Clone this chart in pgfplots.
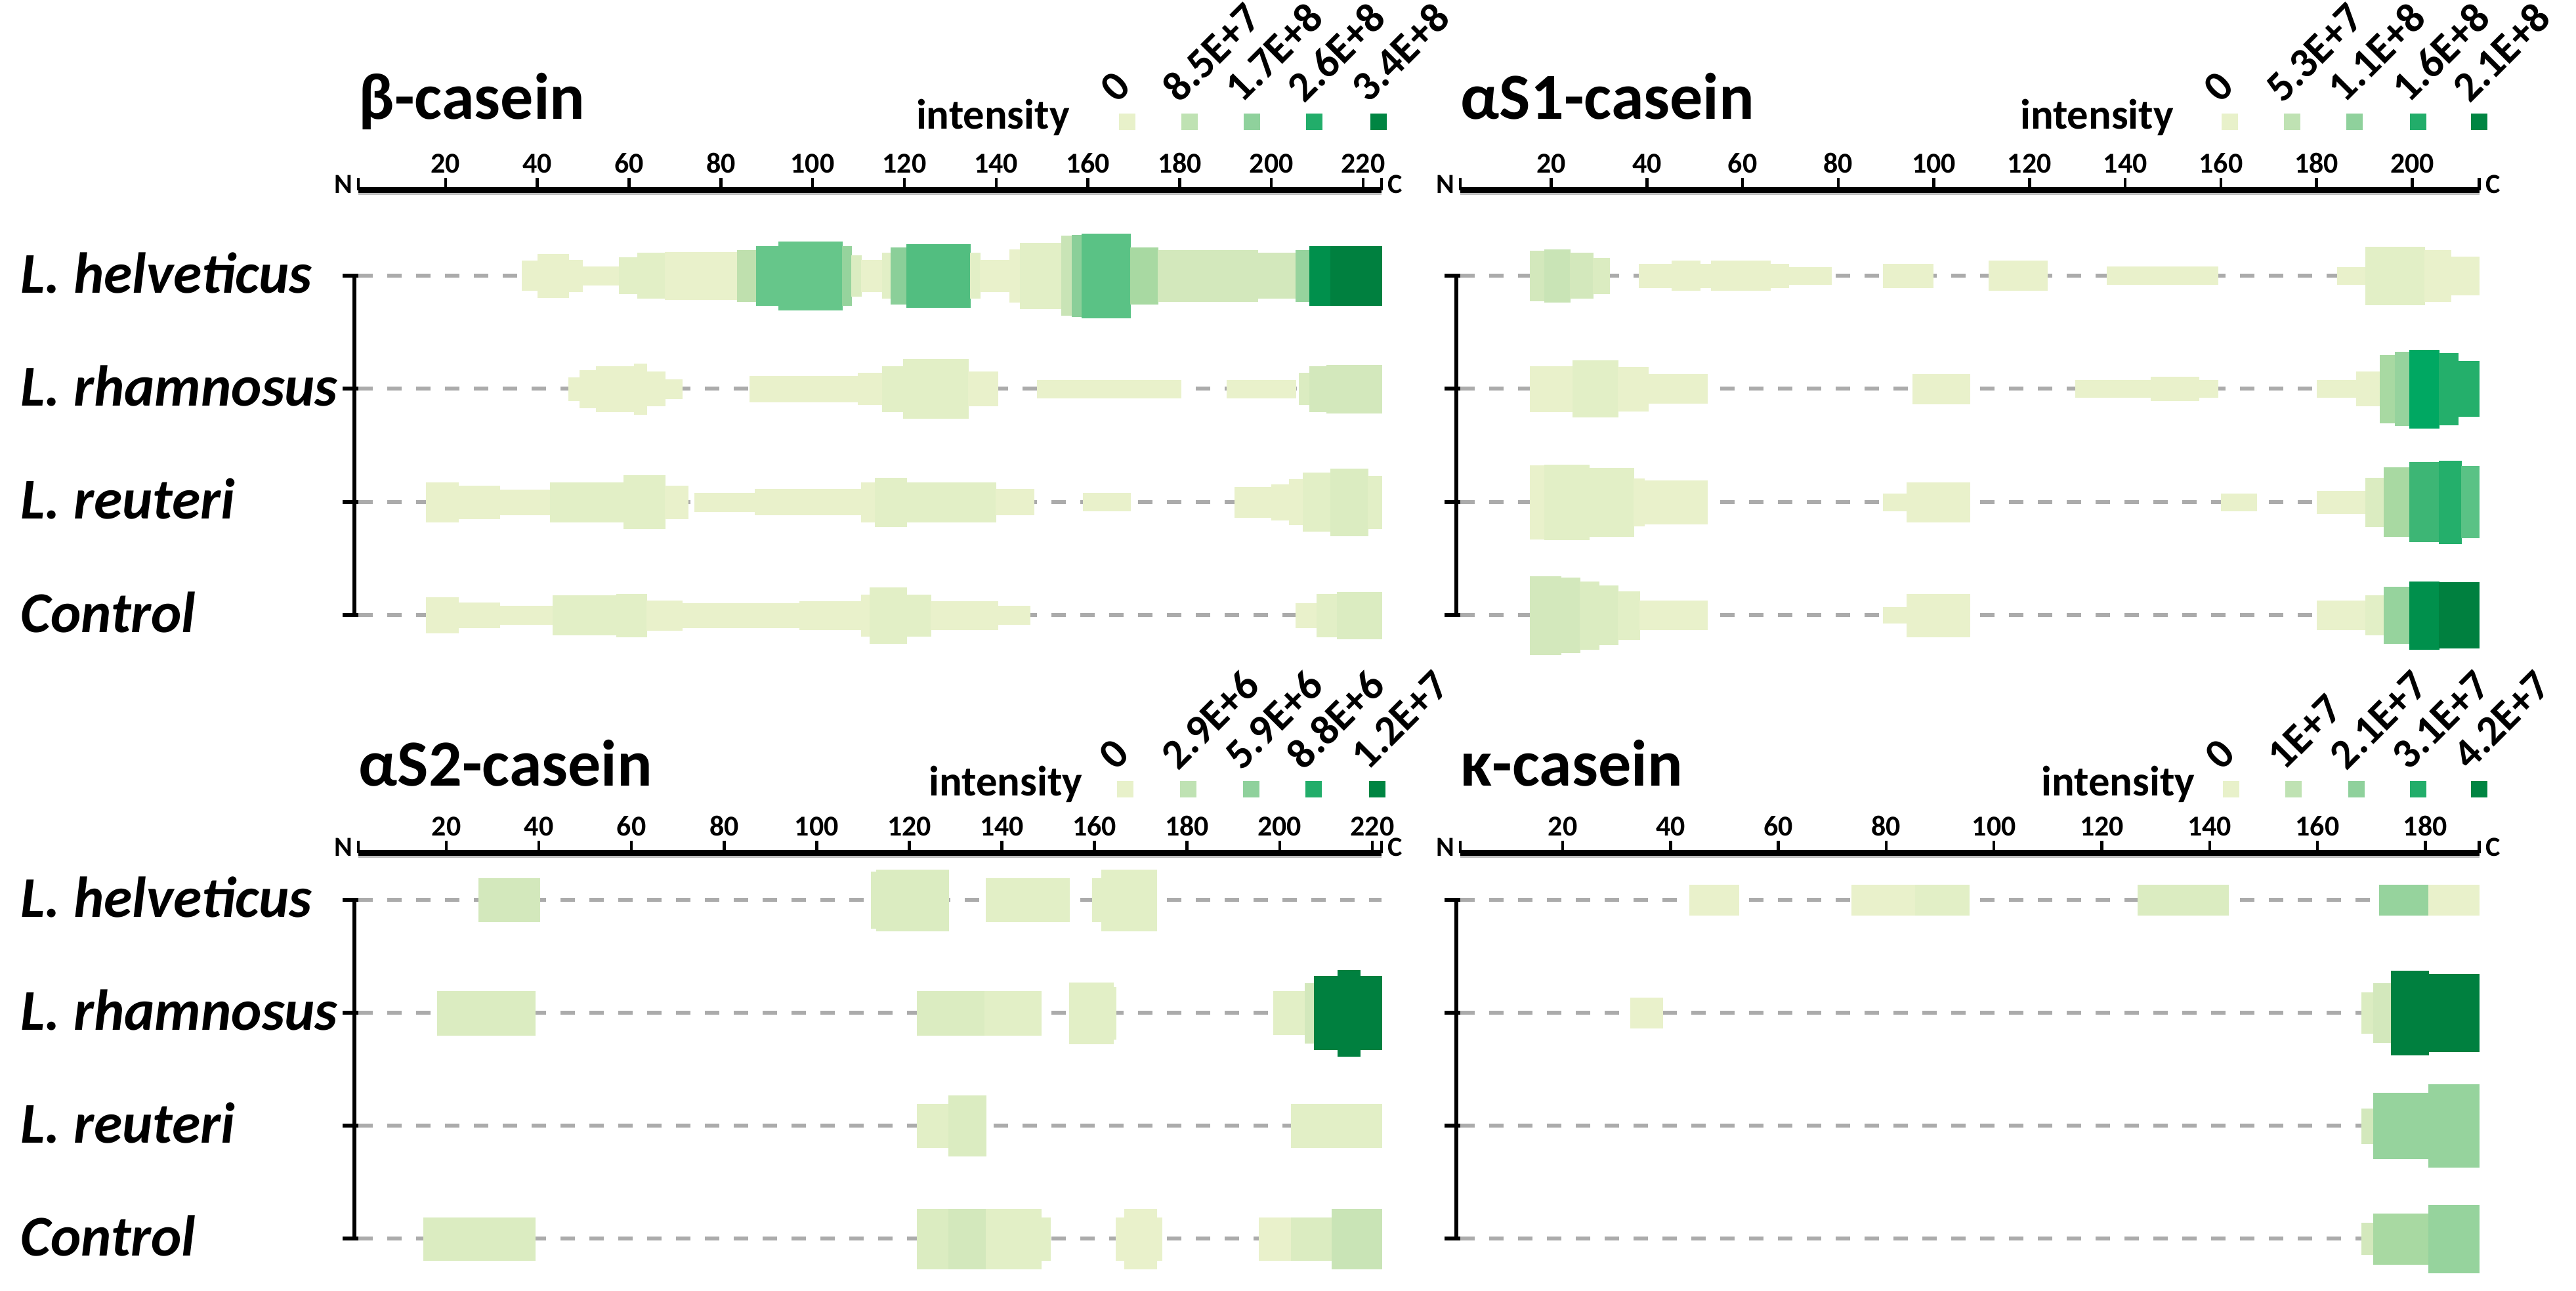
\documentclass[border=0pt]{standalone}
\usepackage{pgfplots}
\pgfplotsset{compat=1.18}
\usepackage{fontspec}
\setmainfont{Carlito}

\definecolor{p1}{HTML}{E9F1CB}
\definecolor{p2}{HTML}{E2EFC6}
\definecolor{p3}{HTML}{DBECC1}
\definecolor{p4}{HTML}{D3E8BC}
\definecolor{p5}{HTML}{C9E4B6}
\definecolor{p6}{HTML}{BFE0AE}
\definecolor{p7}{HTML}{A8D9A2}
\definecolor{p8}{HTML}{96D39D}
\definecolor{p9}{HTML}{8BCF99}
\definecolor{q1}{HTML}{66C68A}
\definecolor{q2}{HTML}{5AC285}
\definecolor{q3}{HTML}{52BE80}
\definecolor{q4}{HTML}{3DB675}
\definecolor{q5}{HTML}{24AF6B}
\definecolor{q6}{HTML}{00A862}
\definecolor{q7}{HTML}{00904C}
\definecolor{q8}{HTML}{00803F}
\definecolor{L0}{HTML}{E8F1CA}
\definecolor{L1}{HTML}{BFE2B3}
\definecolor{L2}{HTML}{8FD19C}
\definecolor{L3}{HTML}{22AD6A}
\definecolor{L4}{HTML}{008542}
\definecolor{dashgray}{HTML}{ABABAB}

\newcommand\titlefont{\fontsize{28.5}{30}\selectfont\bfseries}
\newcommand\rowfont{\fontsize{25}{27}\selectfont\bfseries\itshape}
\newcommand\intfont{\fontsize{18.4}{20}\selectfont\bfseries}
\newcommand\legfont{\fontsize{18.4}{20}\selectfont\bfseries}
\newcommand\tickfont{\fontsize{12.5}{13}\selectfont\bfseries}
\newcommand\ncfont{\fontsize{12}{13}\selectfont\bfseries}

% one piece of a coverage bar: x1, x2, row, half height, colour
\newcommand{\seg}[5]{%
  \pgfmathsetmacro\ylo{#3-#4}%
  \pgfmathsetmacro\yhi{#3+#4}%
  \addplot[fill=#5, draw=#5, line width=0.1pt, forget plot]
    coordinates {(#1,\ylo) (#2,\ylo) (#2,\yhi) (#1,\yhi)} -- cycle;
}
\newcommand{\rowline}[2]{%
  \addplot[dashgray, line width=0.6mm, dash pattern=on 2.2mm off 2.2mm, forget plot]
    coordinates {(1,#1) (#2,#1)};
}
\newcommand{\legsq}[4]{%
  \addplot[only marks, mark=square*, mark size=1.18mm, color=#3, forget plot]
    coordinates {(#1,#2)};
  \node[rotate=45, anchor=south west, inner sep=0pt, font=\legfont]
    at ([xshift=-1.4mm, yshift=2.6mm]axis cs:#1,#2) {#4};
}
\newcommand{\bracket}{%
  \draw[line width=0.6mm] ([xshift=-0.6mm]axis cs:1,4) -- ([xshift=-0.6mm]axis cs:1,1);
  \draw[line width=0.6mm] ([xshift=0mm]axis cs:1,4) -- ([xshift=-2.4mm]axis cs:1,4);
  \draw[line width=0.6mm] ([xshift=0mm]axis cs:1,3) -- ([xshift=-2.4mm]axis cs:1,3);
  \draw[line width=0.6mm] ([xshift=0mm]axis cs:1,2) -- ([xshift=-2.4mm]axis cs:1,2);
  \draw[line width=0.6mm] ([xshift=0mm]axis cs:1,1) -- ([xshift=-2.4mm]axis cs:1,1);
}
\newcommand{\axisends}{%
  \draw[black!25, line width=0.3mm] ([yshift=-0.6mm]rel axis cs:0,1) -- ([yshift=-0.6mm]rel axis cs:1,1);
  \node[anchor=base east, font=\ncfont, inner sep=0pt] at ([xshift=-0.8mm, yshift=-0.45mm]rel axis cs:0,1) {N};
  \node[anchor=base west, font=\ncfont, inner sep=0pt] at ([xshift=0.9mm, yshift=-0.45mm]rel axis cs:1,1) {C};
}
\newcommand{\rowlabels}{%
  \node[anchor=base west, font=\rowfont, inner sep=0pt] at ([xshift=-51.5mm, yshift=-2.6mm]axis cs:1,4) {L. helveticus};
  \node[anchor=base west, font=\rowfont, inner sep=0pt] at ([xshift=-51.5mm, yshift=-2.6mm]axis cs:1,3) {L. rhamnosus};
  \node[anchor=base west, font=\rowfont, inner sep=0pt] at ([xshift=-51.5mm, yshift=-2.6mm]axis cs:1,2) {L. reuteri};
  \node[anchor=base west, font=\rowfont, inner sep=0pt] at ([xshift=-51.5mm, yshift=-2.6mm]axis cs:1,1) {Control};
}

\pgfplotsset{
  panel/.style={
    scale only axis, anchor=south west, clip=false,
    axis x line=top, axis y line=none,
    axis line style={-},
    x axis line style={line width=0.9mm, black},
    ytick=\empty,
    tick align=outside,
    major tick length=1.9mm,
    tick style={line width=0.45mm, black},
    xticklabel style={font=\tickfont, text=black, yshift=-0.5mm},
    /pgf/number format/assume math mode=true,
    extra x tick labels={},
    extra x tick style={tick style={line width=0.45mm, black}},
  }
}

\begin{document}
\begin{tikzpicture}
\path[use as bounding box] (0,0) rectangle (392.5mm,196.7mm);

%================ beta-casein =================
\begin{axis}[panel, at={(54.6mm,94.325mm)}, width=155.9mm, height=73.375mm,
  xmin=1, xmax=224, ymin=0.5, ymax=4.754,
  xtick={20,40,...,220}, extra x ticks={1,224}]
\rowline{4}{224}\rowline{3}{224}\rowline{2}{224}\rowline{1}{224}
% L. helveticus
\seg{36.7}{40.1}{4}{0.13}{p1}
\seg{40.1}{46.8}{4}{0.19}{p1}
\seg{46.8}{49.8}{4}{0.14}{p1}
\seg{49.8}{57.8}{4}{0.08}{p1}
\seg{57.8}{61.8}{4}{0.16}{p2}
\seg{61.8}{67.8}{4}{0.2}{p2}
\seg{67.8}{83.6}{4}{0.21}{p1}
\seg{83.6}{87.7}{4}{0.225}{p6}
\seg{87.7}{92.6}{4}{0.26}{q1}
\seg{92.6}{106.4}{4}{0.30}{q1}
\seg{106.4}{108.4}{4}{0.26}{p8}
\seg{108.4}{110.6}{4}{0.18}{p3}
\seg{110.6}{115.2}{4}{0.14}{p1}
\seg{115.2}{117}{4}{0.2}{p2}
\seg{117}{120.4}{4}{0.25}{p9}
\seg{120.4}{134.4}{4}{0.28}{q3}
\seg{134.4}{136.5}{4}{0.2}{p2}
\seg{136.5}{142.9}{4}{0.14}{p1}
\seg{142.9}{145.2}{4}{0.23}{p1}
\seg{145.2}{154.2}{4}{0.29}{p2}
\seg{154.2}{156.5}{4}{0.35}{p5}
\seg{156.5}{158.7}{4}{0.36}{p9}
\seg{158.7}{169.2}{4}{0.37}{q2}
\seg{169.2}{175.3}{4}{0.25}{p7}
\seg{175.3}{197}{4}{0.225}{p4}
\seg{197}{205.3}{4}{0.2}{p4}
\seg{205.3}{208.3}{4}{0.225}{p8}
\seg{208.3}{212.8}{4}{0.26}{q7}
\seg{212.8}{224}{4}{0.26}{q8}
% L. rhamnosus
\seg{46.8}{49.3}{3}{0.10}{p1}
\seg{49.3}{52.8}{3}{0.165}{p1}
\seg{52.8}{61.1}{3}{0.2}{p1}
\seg{61.1}{63.8}{3}{0.225}{p1}
\seg{63.8}{67.8}{3}{0.15}{p1}
\seg{67.8}{71.6}{3}{0.085}{p1}
\seg{86.3}{109.9}{3}{0.113}{p1}
\seg{109.9}{115.2}{3}{0.14}{p1}
\seg{115.2}{119.7}{3}{0.2}{p2}
\seg{119.7}{133.9}{3}{0.26}{p2}
\seg{133.9}{140.4}{3}{0.15}{p1}
\seg{148.9}{180.2}{3}{0.08}{p1}
\seg{190.2}{205.3}{3}{0.08}{p1}
\seg{206}{208.3}{3}{0.14}{p3}
\seg{208.3}{212}{3}{0.2}{p4}
\seg{212}{224}{3}{0.213}{p4}
% L. reuteri
\seg{15.7}{22.8}{2}{0.173}{p1}
\seg{22.8}{31.8}{2}{0.145}{p1}
\seg{31.8}{42.8}{2}{0.11}{p1}
\seg{42.8}{58.8}{2}{0.173}{p2}
\seg{58.8}{67.8}{2}{0.235}{p2}
\seg{67.8}{72.8}{2}{0.145}{p1}
\seg{74.3}{87.4}{2}{0.08}{p1}
\seg{87.4}{110.6}{2}{0.113}{p1}
\seg{110.6}{113.6}{2}{0.175}{p1}
\seg{113.6}{120.4}{2}{0.215}{p2}
\seg{120.4}{139.9}{2}{0.173}{p2}
\seg{139.9}{148.2}{2}{0.113}{p1}
\seg{159}{169.2}{2}{0.078}{p1}
\seg{192}{200}{2}{0.135}{p1}
\seg{200}{203.8}{2}{0.157}{p1}
\seg{203.8}{206.8}{2}{0.2}{p1}
\seg{206.8}{212.8}{2}{0.258}{p2}
\seg{212.8}{221}{2}{0.295}{p3}
\seg{221}{224}{2}{0.233}{p2}
% Control
\seg{15.7}{22.8}{1}{0.157}{p1}
\seg{22.8}{31.8}{1}{0.11}{p1}
\seg{31.8}{43.4}{1}{0.082}{p1}
\seg{43.4}{57.3}{1}{0.175}{p2}
\seg{57.3}{63.8}{1}{0.19}{p2}
\seg{63.8}{71.6}{1}{0.13}{p1}
\seg{71.6}{97.1}{1}{0.107}{p1}
\seg{97.1}{110.6}{1}{0.125}{p1}
\seg{110.6}{112.4}{1}{0.182}{p1}
\seg{112.4}{120.4}{1}{0.245}{p2}
\seg{120.4}{125.7}{1}{0.182}{p2}
\seg{125.7}{140.4}{1}{0.125}{p1}
\seg{140.4}{147.4}{1}{0.08}{p1}
\seg{205.3}{209.8}{1}{0.107}{p1}
\seg{209.8}{214.3}{1}{0.19}{p2}
\seg{214.3}{224}{1}{0.207}{p3}
% legend
\legsq{168.5}{5.357}{L0}{0}
\legsq{182.1}{5.357}{L1}{8.5E+7}
\legsq{195.7}{5.357}{L2}{1.7E+8}
\legsq{209.3}{5.357}{L3}{2.6E+8}
\legsq{223.3}{5.357}{L4}{3.4E+8}
\node[anchor=base east, font=\intfont, inner sep=0pt] at ([yshift=-1.1mm]axis cs:156.1,5.357) {intensity};
\node[anchor=base west, font=\titlefont, inner sep=0pt] at ([yshift=10.8mm]rel axis cs:0,1) {β-casein};
\axisends
\bracket
\rowlabels
\end{axis}

%================ alphaS1-casein =================
\begin{axis}[panel, at={(222.5mm,94.325mm)}, width=155.25mm, height=73.375mm,
  xmin=1, xmax=214, ymin=0.5, ymax=4.754,
  xtick={20,40,...,200}, extra x ticks={1,214}]
\rowline{4}{214}\rowline{3}{214}\rowline{2}{214}\rowline{1}{214}
% L. helveticus
\seg{15.5}{18.6}{4}{0.22}{p4}
\seg{18.6}{24}{4}{0.23}{p5}
\seg{24}{28.7}{4}{0.2}{p4}
\seg{28.7}{32.2}{4}{0.155}{p3}
\seg{38.4}{45.2}{4}{0.105}{p1}
\seg{45.2}{51.1}{4}{0.13}{p1}
\seg{51.1}{53.4}{4}{0.105}{p1}
\seg{53.4}{65.8}{4}{0.13}{p1}
\seg{65.8}{69.6}{4}{0.105}{p1}
\seg{69.6}{78.6}{4}{0.075}{p1}
\seg{89.4}{99.8}{4}{0.105}{p1}
\seg{111.4}{123.7}{4}{0.13}{p1}
\seg{136.1}{159.3}{4}{0.078}{p1}
\seg{184.3}{190.2}{4}{0.075}{p1}
\seg{190.2}{202.5}{4}{0.255}{p2}
\seg{202.5}{208}{4}{0.225}{p1}
\seg{208}{214}{4}{0.17}{p1}
% L. rhamnosus
\seg{15.5}{24.5}{3}{0.2}{p1}
\seg{24.5}{34}{3}{0.25}{p2}
\seg{34}{40.3}{3}{0.195}{p1}
\seg{40.3}{52.6}{3}{0.127}{p1}
\seg{95.6}{107.5}{3}{0.13}{p1}
\seg{129.6}{145.4}{3}{0.075}{p1}
\seg{145.4}{155.4}{3}{0.105}{p1}
\seg{155.4}{159.3}{3}{0.075}{p1}
\seg{180.1}{188.3}{3}{0.075}{p1}
\seg{188.3}{193.3}{3}{0.15}{p1}
\seg{193.3}{196.4}{3}{0.3}{p7}
\seg{196.4}{199.4}{3}{0.325}{p8}
\seg{199.4}{205.6}{3}{0.345}{q6}
\seg{205.6}{209.5}{3}{0.315}{q5}
\seg{209.5}{214}{3}{0.243}{q5}
% L. reuteri
\seg{15.5}{18.6}{2}{0.325}{p1}
\seg{18.6}{27.9}{2}{0.33}{p2}
\seg{27.9}{37.2}{2}{0.3}{p2}
\seg{37.2}{39.5}{2}{0.21}{p1}
\seg{39.5}{52.6}{2}{0.19}{p1}
\seg{89.4}{94.3}{2}{0.075}{p1}
\seg{94.3}{107.5}{2}{0.175}{p1}
\seg{160}{167.5}{2}{0.075}{p1}
\seg{180.1}{190.2}{2}{0.1}{p1}
\seg{190.2}{194}{2}{0.215}{p3}
\seg{194}{199.4}{2}{0.305}{p7}
\seg{199.4}{205.6}{2}{0.35}{q4}
\seg{205.6}{210.3}{2}{0.365}{q5}
\seg{210.3}{214}{2}{0.315}{q2}
% Control
\seg{15.5}{22}{1}{0.345}{p4}
\seg{22}{26}{1}{0.33}{p4}
\seg{26}{30}{1}{0.30}{p3}
\seg{30}{34}{1}{0.26}{p3}
\seg{34}{38.5}{1}{0.21}{p2}
\seg{38.5}{52.6}{1}{0.128}{p1}
\seg{89.4}{94.3}{1}{0.07}{p1}
\seg{94.3}{107.5}{1}{0.188}{p1}
\seg{180.1}{190.2}{1}{0.128}{p1}
\seg{190.2}{194}{1}{0.175}{p2}
\seg{194}{199.4}{1}{0.25}{p8}
\seg{199.4}{205.6}{1}{0.3}{q7}
\seg{205.6}{214}{1}{0.29}{q8}
% legend
\legsq{161.9}{5.357}{L0}{0}
\legsq{174.9}{5.357}{L1}{5.3E+7}
\legsq{187.9}{5.357}{L2}{1.1E+8}
\legsq{201.3}{5.357}{L3}{1.6E+8}
\legsq{214}{5.357}{L4}{2.1E+8}
\node[anchor=base east, font=\intfont, inner sep=0pt] at ([yshift=-1.1mm]axis cs:150.2,5.357) {intensity};
\node[anchor=base west, font=\titlefont, inner sep=0pt] at ([yshift=10.8mm]rel axis cs:0,1) {αS1-casein};
\axisends
\bracket
\end{axis}

%================ alphaS2-casein =================
\begin{axis}[panel, at={(54.6mm,-0.65mm)}, width=155.9mm, height=67.35mm,
  xmin=1, xmax=222, ymin=0.5, ymax=4.414,
  xtick={20,40,...,220}, extra x ticks={1,222}]
\rowline{4}{222}\rowline{3}{222}\rowline{2}{222}\rowline{1}{222}
% L. helveticus
\seg{27}{40.1}{4}{0.19}{p4}
\seg{111.7}{112.8}{4}{0.25}{p3}
\seg{112.8}{128.5}{4}{0.27}{p3}
\seg{136.5}{154.6}{4}{0.19}{p2}
\seg{159.5}{161.5}{4}{0.19}{p2}
\seg{161.5}{173.4}{4}{0.27}{p2}
% L. rhamnosus
\seg{18}{39.1}{3}{0.195}{p3}
\seg{121.7}{136.2}{3}{0.195}{p3}
\seg{136.2}{148.5}{3}{0.195}{p2}
\seg{154.6}{164}{3}{0.27}{p2}
\seg{164}{164.6}{3}{0.23}{p2}
\seg{198.6}{205.4}{3}{0.19}{p2}
\seg{205.4}{207.4}{3}{0.265}{p4}
\seg{207.4}{212.5}{3}{0.325}{q8}
\seg{212.5}{217.4}{3}{0.38}{q8}
\seg{217.4}{222}{3}{0.325}{q8}
% L. reuteri
\seg{121.7}{128.5}{2}{0.19}{p2}
\seg{128.5}{136.5}{2}{0.268}{p3}
\seg{202.4}{222}{2}{0.19}{p2}
% Control
\seg{15}{39.1}{1}{0.19}{p3}
\seg{121.7}{128.5}{1}{0.265}{p3}
\seg{128.5}{136.5}{1}{0.265}{p4}
\seg{136.5}{148.5}{1}{0.265}{p2}
\seg{148.5}{150.4}{1}{0.19}{p2}
\seg{164.6}{166.5}{1}{0.19}{p1}
\seg{166.5}{173.4}{1}{0.265}{p1}
\seg{173.4}{174.5}{1}{0.19}{p1}
\seg{195.5}{202.4}{1}{0.19}{p1}
\seg{202.4}{211.3}{1}{0.19}{p3}
\seg{211.3}{222}{1}{0.265}{p5}
% legend
\legsq{166.7}{4.981}{L0}{0}
\legsq{180.2}{4.981}{L1}{2.9E+6}
\legsq{193.9}{4.981}{L2}{5.9E+6}
\legsq{207.3}{4.981}{L3}{8.8E+6}
\legsq{221.1}{4.981}{L4}{1.2E+7}
\node[anchor=base east, font=\intfont, inner sep=0pt] at ([yshift=-1.0mm]axis cs:157.5,4.981) {intensity};
\node[anchor=base west, font=\titlefont, inner sep=0pt] at ([yshift=10.25mm]rel axis cs:0,1) {αS2-casein};
\axisends
\bracket
\rowlabels
\end{axis}

%================ kappa-casein =================
\begin{axis}[panel, at={(222.5mm,-0.65mm)}, width=155.25mm, height=67.35mm,
  xmin=1, xmax=190, ymin=0.5, ymax=4.414,
  xtick={20,40,...,180}, extra x ticks={1,190}]
\rowline{4}{190}\rowline{3}{190}\rowline{2}{190}\rowline{1}{190}
% L. helveticus
\seg{43.5}{52.6}{4}{0.133}{p1}
\seg{73.6}{85.4}{4}{0.133}{p1}
\seg{85.4}{95.4}{4}{0.133}{p2}
\seg{126.6}{143.5}{4}{0.133}{p3}
\seg{171.4}{180.6}{4}{0.133}{p8}
\seg{180.6}{190}{4}{0.133}{p1}
% L. rhamnosus
\seg{32.5}{38.5}{3}{0.135}{p1}
\seg{168.2}{170.3}{3}{0.18}{p3}
\seg{170.3}{173.7}{3}{0.26}{p4}
\seg{173.7}{180.6}{3}{0.37}{q8}
\seg{180.6}{190}{3}{0.345}{q8}
% L. reuteri
\seg{168.2}{170.3}{2}{0.155}{p4}
\seg{170.3}{180.6}{2}{0.29}{p8}
\seg{180.6}{190}{2}{0.365}{p8}
% Control
\seg{168.2}{170.3}{1}{0.14}{p4}
\seg{170.3}{180.6}{1}{0.225}{p7}
\seg{180.6}{190}{1}{0.3}{p8}
% legend
\legsq{144}{4.981}{L0}{0}
\legsq{155.6}{4.981}{L1}{1E+7}
\legsq{167.2}{4.981}{L2}{2.1E+7}
\legsq{178.7}{4.981}{L3}{3.1E+7}
\legsq{190}{4.981}{L4}{4.2E+7}
\node[anchor=base east, font=\intfont, inner sep=0pt] at ([yshift=-1.0mm]axis cs:137.3,4.981) {intensity};
\node[anchor=base west, font=\titlefont, inner sep=0pt] at ([yshift=10.25mm]rel axis cs:0,1) {κ-casein};
\axisends
\bracket
\end{axis}

\end{tikzpicture}
\end{document}
